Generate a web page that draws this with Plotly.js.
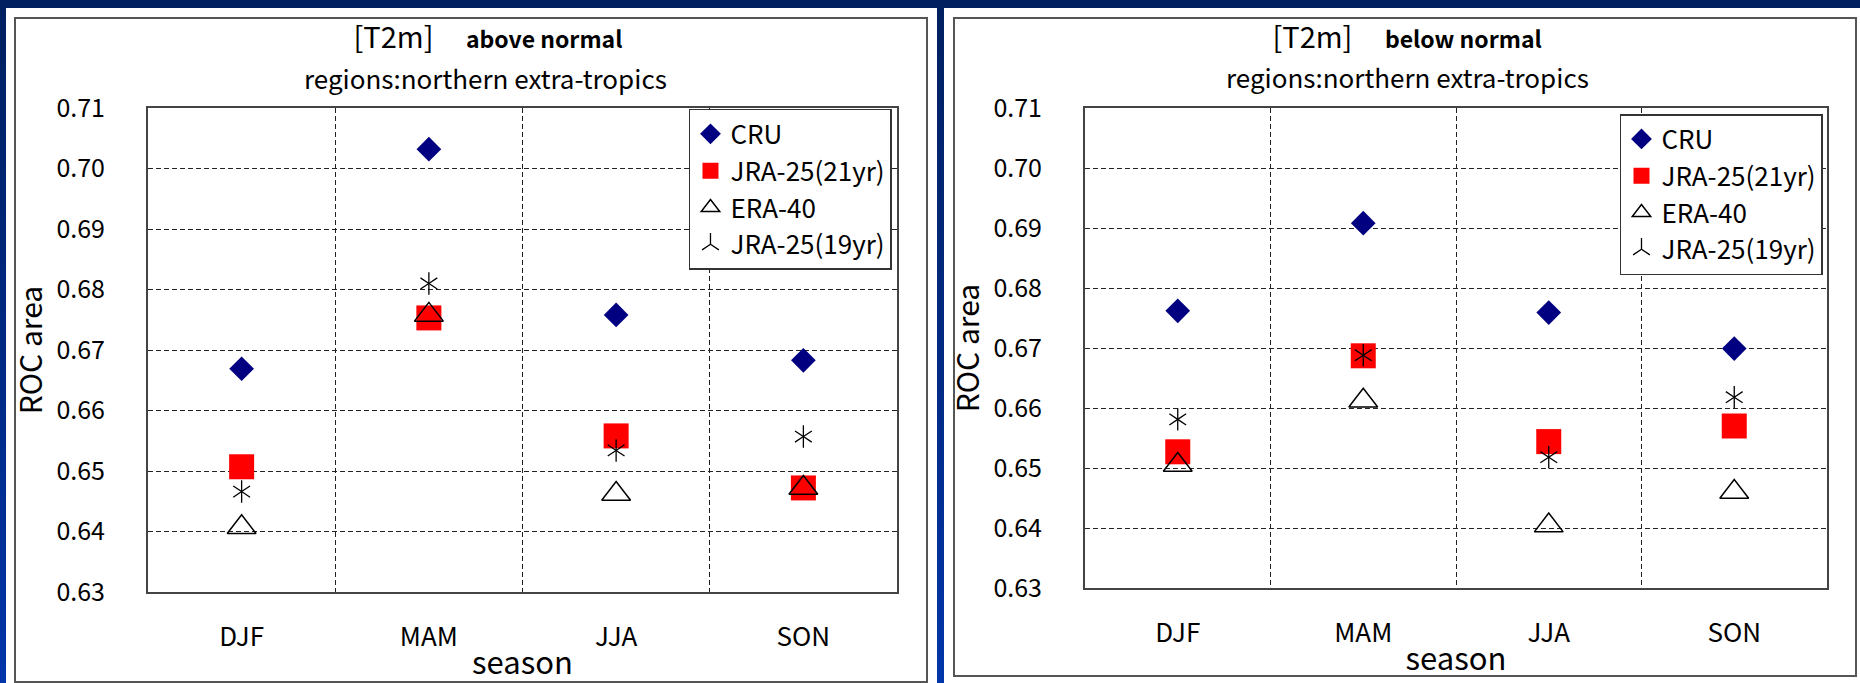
<!DOCTYPE html>
<html>
<head>
<meta charset="utf-8">
<script src="https://cdn.plot.ly/plotly-3.0.1.min.js"></script>
<style>
  html, body { margin:0; padding:0; }
  body {
    width:1860px; height:683px; overflow:hidden; position:relative;
    background: linear-gradient(to bottom, #002060 0%, #002a85 55%, #0036aa 100%);
    font-family: "Noto Sans CJK JP", "Liberation Sans", sans-serif;
  }
  .panel { position:absolute; background:#ffffff; }
  .frame { position:absolute; border:2px solid #555555; box-sizing:border-box; }
  .chart { position:absolute; left:0; top:0; }
</style>
</head>
<body>
<div class="panel" id="p1" style="left:6px; top:8px; width:931px; height:675px;">
  <div class="frame" style="left:8px; top:9px; width:914px; height:666px;"></div>
  <div class="chart" id="c1" style="width:931px; height:675px;"></div>
</div>
<div class="panel" id="p2" style="left:944px; top:8px; width:916px; height:675px;">
  <div class="frame" style="left:9px; top:9px; width:904px; height:660px;"></div>
  <div class="chart" id="c2" style="width:916px; height:675px;"></div>
</div>
<script>
// ---- data ----
var seasons = ['DJF', 'MAM', 'JJA', 'SON'];
var seriesNames = ['CRU', 'JRA-25(21yr)', 'ERA-40', 'JRA-25(19yr)'];

// above normal
var cruAbove   = [0.6669, 0.7032, 0.6758, 0.6683];
var jra21Above = [0.6507, 0.6753, 0.6558, 0.6472];
var era40Above = [0.6407, 0.6758, 0.6462, 0.6472];
var jra19Above = [0.6466, 0.6810, 0.6534, 0.6557];

// below normal
var cruBelow   = [0.6762, 0.6908, 0.6759, 0.6699];
var jra21Below = [0.6527, 0.6687, 0.6544, 0.6570];
var era40Below = [0.6505, 0.6612, 0.6404, 0.6460];
var jra19Below = [0.6581, 0.6688, 0.6518, 0.6618];

var yTickVals = [0.63, 0.64, 0.65, 0.66, 0.67, 0.68, 0.69, 0.70, 0.71];
var yTickText = ['0.63', '0.64', '0.65', '0.66', '0.67', '0.68', '0.69', '0.70', '0.71'];

var FONT = '"Noto Sans CJK JP", "Liberation Sans", sans-serif';

function makeTraces(cru, jra21, era40, jra19) {
  return [
    { type:'scatter', mode:'markers', x:seasons, y:cru, name:seriesNames[0], legendgroup:'a',
      marker:{ symbol:'diamond', size:19, color:'#000080', line:{width:0} } },
    { type:'scatter', mode:'markers', x:seasons, y:jra21, name:seriesNames[1], legendgroup:'b',
      marker:{ symbol:'square', size:25, color:'#ff0000', line:{width:0} } },
    { type:'scatter', mode:'markers', x:seasons, y:era40, name:seriesNames[2], legendgroup:'c',
      marker:{ symbol:'triangle-up-open', size:25, color:'#000000', line:{width:1.5, color:'#000000'} } },
    { type:'scatter', mode:'markers', x:seasons, y:jra19, name:seriesNames[3], legendgroup:'d', showlegend:false,
      marker:{ symbol:'y-down-open', size:14, color:'#000000', line:{width:1.3, color:'#000000'} } },
    { type:'scatter', mode:'markers', x:seasons, y:jra19, name:seriesNames[3], legendgroup:'d',
      marker:{ symbol:'y-up-open', size:14, color:'#000000', line:{width:1.3, color:'#000000'} } }
  ];
}

function makeLayout(opts) {
  return {
    width: opts.w, height: 675,
    margin: { l: opts.l, r: opts.r, t: 100, b: opts.b },
    paper_bgcolor: 'rgba(0,0,0,0)',
    plot_bgcolor: '#ffffff',
    font: { family: FONT, color: '#000000' },
    showlegend: true,
    title: {
      text: '[T2m]     <span style="font-size:23px;font-weight:bold">' + opts.kind + '</span>',
      font: { family: FONT, size: 29, color: '#000000' },
      x: opts.tx, xanchor: 'center', xref: 'container',
      y: 0.956, yanchor: 'middle', yref: 'container'
    },
    annotations: [{
      text: 'regions:northern extra-tropics',
      xref: 'paper', yref: 'paper',
      x: opts.sx, y: opts.sy, xanchor: 'center', yanchor: 'middle',
      showarrow: false,
      font: { family: FONT, size: 26, color: '#000000' }
    }],
    xaxis: {
      type: 'category',
      categoryorder: 'array', categoryarray: seasons,
      range: [-0.5, 3.5],
      tickson: 'boundaries',
      ticks: '',
      showgrid: true, gridcolor: '#222222', gridwidth: 1, griddash: '5px,3px',
      showline: true, linecolor: '#444444', linewidth: 2, mirror: true,
      tickfont: { family: FONT, size: 26, color: '#000000' },
      ticklabelstandoff: 21,
      title: { text: 'season', font: { family: FONT, size: 31, color: '#000000' }, standoff: 0 },
      zeroline: false, fixedrange: true
    },
    yaxis: {
      range: [0.63, 0.71],
      tickvals: yTickVals, ticktext: yTickText,
      ticks: '',
      showgrid: true, gridcolor: '#222222', gridwidth: 1, griddash: '5px,3px',
      showline: true, linecolor: '#444444', linewidth: 2, mirror: true,
      tickfont: { family: FONT, size: 25, color: '#000000' },
      ticklabelstandoff: 36,
      title: { text: 'ROC area', font: { family: FONT, size: 30, color: '#000000' }, standoff: 5 },
      zeroline: false, fixedrange: true
    },
    legend: {
      x: opts.lx, xanchor: 'right', xref: 'paper',
      y: opts.ly, yanchor: 'top', yref: 'paper',
      bgcolor: '#ffffff', bordercolor: '#333333', borderwidth: 1.5,
      font: { family: FONT, size: 26, color: '#000000' },
      traceorder: 'grouped', tracegroupgap: 0,
      itemsizing: 'trace'
    }
  };
}

Plotly.newPlot('c1', makeTraces(cruAbove, jra21Above, era40Above, jra19Above),
  makeLayout({ w: 931, l: 142, r: 40, b: 91, kind: 'above normal',
               tx: 0.5177, sx: 0.450, sy: 1.064, lx: 0.9933, ly: 0.998 }),
  { staticPlot: true });

Plotly.newPlot('c2', makeTraces(cruBelow, jra21Below, era40Below, jra19Below),
  makeLayout({ w: 916, l: 141, r: 33, b: 95, kind: 'below normal',
               tx: 0.5056, sx: 0.435, sy: 1.065, lx: 0.9946, ly: 0.9875 }),
  { staticPlot: true });
</script>
</body>
</html>
